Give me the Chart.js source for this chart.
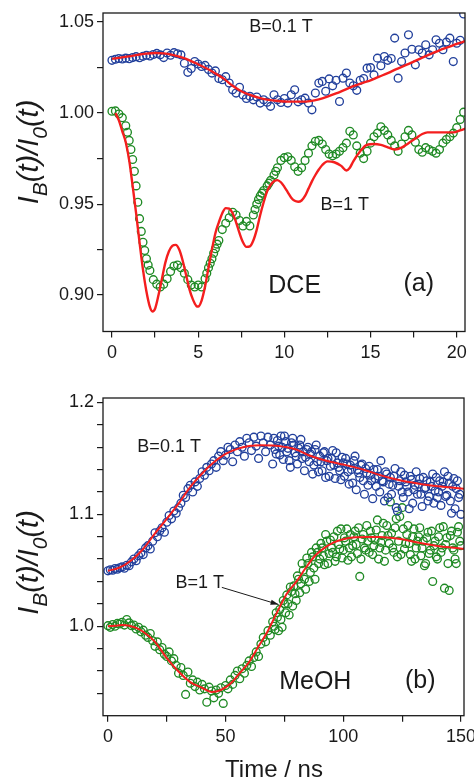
<!DOCTYPE html>
<html><head><meta charset="utf-8">
<script src="https://cdn.jsdelivr.net/npm/chart.js@4/dist/chart.umd.min.js"></script>
<style>
html,body{margin:0;padding:0;background:#fff;width:474px;height:781px;overflow:hidden}
#ca{position:absolute;left:0;top:0;width:474px;height:380px}
#cb{position:absolute;left:0;top:380px;width:474px;height:401px}
</style></head><body>
<canvas id="ca" width="474" height="380"></canvas>
<canvas id="cb" width="474" height="401"></canvas>
<script>
// ---------- Panel (a): DCE ----------
const dceTime = [
 0.0,0.2,0.4,0.6,0.8,1.0,1.2,1.4,1.6,1.8,
 2.0,2.2,2.4,2.6,2.8,3.0,3.2,3.4,3.6,3.8,
 4.0,4.2,4.4,4.6,4.8,5.0,5.2,5.4,5.6,5.8,
 6.0,6.2,6.4,6.6,6.8,7.0,7.2,7.4,7.6,7.8,
 8.0,8.2,8.4,8.6,8.8,9.0,9.2,9.4,9.6,9.8,
 10.0,10.2,10.4,10.6,10.8,11.0,11.2,11.4,11.6,11.8,
 12.0,12.2,12.4,12.6,12.8,13.0,13.2,13.4,13.6,13.8,
 14.0,14.2,14.4,14.6,14.8,15.0,15.2,15.4,15.6,15.8,
 16.0,16.2,16.4,16.6,16.8,17.0,17.2,17.4,17.6,17.8,
 18.0,18.2,18.4,18.6,18.8,19.0,19.2,19.4,19.6,19.8,
 20.0,20.2,20.4];
const dceBlue = [
 1.0290,1.0296,1.0300,1.0297,1.0302,1.0299,1.0305,1.0310,1.0304,1.0312,
 1.0318,1.0314,1.0322,1.0328,1.0320,1.0305,1.0330,1.0318,1.0332,1.0326,
 1.0320,1.0274,1.0224,1.0245,1.0283,1.0270,1.0256,1.0262,1.0240,1.0220,
 1.0232,1.0190,1.0183,1.0200,1.0165,1.0128,1.0110,1.0142,1.0100,1.0080,
 1.0092,1.0073,1.0088,1.0055,1.0073,1.0060,1.0037,1.0101,1.0073,1.0058,
 1.0080,1.0055,1.0101,1.0128,1.0062,1.0073,1.0082,1.0055,1.0018,1.0110,
 1.0165,1.0174,1.0120,1.0188,1.0150,1.0180,1.0064,1.0192,1.0220,1.0165,
 1.0150,1.0125,1.0180,1.0190,1.0247,1.0250,1.0210,1.0302,1.0260,1.0311,
 1.0290,1.0300,1.0412,1.0192,1.0283,1.0330,1.0430,1.0351,1.0265,1.0348,
 1.0330,1.0375,1.0320,1.0348,1.0403,1.0384,1.0348,1.0390,1.0412,1.0283,
 1.0384,1.0400,1.0545];
const dceGreen = [
 1.0010,1.0012,0.9995,0.9975,0.9930,0.9850,0.9745,0.9600,0.9420,0.9290,
 0.9200,0.9135,0.9085,0.9060,0.9045,0.9060,0.9090,0.9130,0.9160,0.9165,
 0.9150,0.9120,0.9085,0.9055,0.9045,0.9055,0.9045,0.9090,0.9150,0.9200,
 0.9255,0.9300,0.9360,0.9395,0.9425,0.9455,0.9440,0.9410,0.9380,0.9405,
 0.9380,0.9440,0.9500,0.9545,0.9575,0.9600,0.9630,0.9660,0.9700,0.9740,
 0.9755,0.9760,0.9740,0.9705,0.9680,0.9700,0.9740,0.9780,0.9820,0.9845,
 0.9850,0.9830,0.9800,0.9775,0.9765,0.9775,0.9790,0.9810,0.9835,0.9900,
 0.9880,0.9820,0.9780,0.9750,0.9790,0.9835,0.9870,0.9890,0.9925,0.9905,
 0.9880,0.9850,0.9820,0.9790,0.9830,0.9870,0.9905,0.9880,0.9840,0.9800,
 0.9785,0.9810,0.9800,0.9790,0.9780,0.9800,0.9835,0.9855,0.9870,0.9890,
 0.9920,0.9965,1.0005];
const dceGreenExtraTime = [0.9,1.1,1.3,1.5,1.7,1.9,2.1,5.5,5.7,5.9,6.1,8.3,8.5,8.7,9.1,9.5];
const dceGreenExtra = [0.9895,0.9800,0.9680,0.9510,0.9350,0.9245,0.9165,0.9120,0.9175,0.9230,0.9280,0.9470,0.9525,0.9560,0.9615,0.9680];
const dceBlueFitTime = [0,0.5,1,1.5,2,2.5,3,3.5,4,4.5,5,5.5,6,6.5,7,7.5,8,8.5,9,9.5,10,10.5,11,11.5,12,12.5,13,13.5,14,14.5,15,15.5,16,16.5,17,17.5,18,18.5,19,19.5,20,20.5];
const dceBlueFit = [1.0298,1.0305,1.0312,1.0320,1.0327,1.0330,1.0328,1.0320,1.0307,1.0290,1.0268,1.0245,1.0218,1.0188,1.0150,1.0120,1.0100,1.0085,1.0074,1.0068,1.0064,1.0063,1.0063,1.0066,1.0075,1.0090,1.0108,1.0128,1.0148,1.0165,1.0180,1.0200,1.0220,1.0242,1.0262,1.0283,1.0305,1.0325,1.0345,1.0362,1.0380,1.0395];
const dceGreenFitTime = [0.2,0.4,0.6,0.8,1.0,1.2,1.4,1.6,1.8,2.0,2.2,2.35,2.5,2.7,2.9,3.1,3.3,3.5,3.7,3.9,4.1,4.3,4.5,4.7,4.9,5.0,
 5.2,5.4,5.6,5.8,6.0,6.2,6.4,6.6,6.8,7.0,7.2,7.4,7.6,7.8,8.0,8.2,8.4,8.6,8.8,9.0,9.2,9.4,9.6,9.8,10.0,10.2,10.4,10.6,10.8,11.0,11.2,11.4,11.6,11.8,12.0,12.2,
 12.5,12.9,13.3,13.6,13.8,14.0,14.4,14.8,15.2,15.6,16.0,16.4,16.8,17.2,17.6,18.0,18.3,19.0,19.8,20.2,20.6];
const dceGreenFit = [1.0000,0.9960,0.9900,0.9840,0.9740,0.9600,0.9450,0.9290,0.9140,0.9020,0.8935,0.8910,0.8925,0.9000,0.9090,0.9180,0.9240,0.9270,0.9276,0.9250,0.9190,0.9110,0.9030,0.8975,0.8940,0.8937,
 0.8970,0.9047,0.9150,0.9250,0.9340,0.9400,0.9450,0.9478,0.9475,0.9450,0.9400,0.9340,0.9290,0.9265,0.9268,0.9300,0.9360,0.9440,0.9510,0.9570,0.9605,0.9625,0.9632,0.9620,0.9595,0.9565,0.9535,0.9518,0.9513,0.9520,0.9545,0.9585,0.9625,0.9660,0.9690,0.9715,
 0.9735,0.9730,0.9710,0.9685,0.9700,0.9735,0.9790,0.9826,0.9830,0.9825,0.9812,0.9800,0.9810,0.9835,0.9860,0.9885,0.9894,0.9894,0.9894,0.9905,0.9918];
const dceXTicks = [0,2.5,5,7.5,10,12.5,15,17.5,20];
const dceXLabels = ['0','','5','','10','','15','','20'];
const dceYTicks = [0.9,0.925,0.95,0.975,1.0,1.025,1.05];
const dceYLabels = ['0.90','','0.95','','1.00','','1.05'];

// ---------- Panel (b): MeOH ----------
const meohTime = [
 0,1,2,3,4,5,6,7,8,9,10,11,12,13,14,15,16,17,18,19,
 20,21,22,23,24,25,26,27,28,29,30,31,32,33,34,35,36,37,38,39,
 40,41,42,43,44,45,46,47,48,49,50,51,52,53,54,55,56,57,58,59,
 60,61,62,63,64,65,66,67,68,69,70,71,72,73,74,75,76,77,78,79,
 80,81,82,83,84,85,86,87,88,89,90,91,92,93,94,95,96,97,98,99,
 100,101,102,103,104,105,106,107,108,109,110,111,112,113,114,115,116,117,118,119,
 120,121,122,123,124,125,126,127,128,129,130,131,132,133,134,135,136,137,138,139,
 140,141,142,143,144,145,146,147,148,149,150];
const meohBlue = [
 1.0495,1.0505,1.0500,1.0515,1.0510,1.0522,1.0530,1.0518,1.0545,1.0540,
 1.0575,1.0600,1.0585,1.0630,1.0655,1.0640,1.0700,1.0720,1.0690,1.0760,
 1.0835,1.0800,1.0850,1.0880,1.0840,1.0930,1.0990,1.0960,1.1030,1.1010,
 1.1060,1.1100,1.1170,1.1150,1.1230,1.1260,1.1200,1.1290,1.1250,1.1320,
 1.1380,1.1350,1.1420,1.1390,1.1450,1.1480,1.1420,1.1520,1.1560,1.1480,
 1.1530,1.1600,1.1580,1.1470,1.1620,1.1560,1.1650,1.1600,1.1520,1.1680,
 1.1640,1.1570,1.1690,1.1610,1.1500,1.1700,1.1640,1.1560,1.1690,1.1620,
 1.1450,1.1580,1.1660,1.1530,1.1600,1.1700,1.1560,1.1480,1.1640,1.1620,
 1.1520,1.1590,1.1670,1.1560,1.1510,1.1600,1.1540,1.1360,1.1580,1.1470,
 1.1520,1.1390,1.1560,1.1480,1.1340,1.1500,1.1440,1.1550,1.1420,1.1310,
 1.1460,1.1500,1.1380,1.1440,1.1280,1.1520,1.1400,1.1330,1.1450,1.1180,
 1.1370,1.1430,1.1300,1.1400,1.1250,1.1340,1.1480,1.1290,1.1380,1.1150,
 1.1330,1.1260,1.1410,1.1030,1.1300,1.1200,1.1350,1.1250,1.1050,1.1310,
 1.1220,1.1380,1.1270,1.1180,1.1330,1.1240,1.1120,1.1290,1.1360,1.1210,
 1.1150,1.1300,1.1250,1.1380,1.1170,1.1280,1.1010,1.1320,1.1230,1.1150,
 1.1000];
const meohGreen = [
 1.0005,0.9990,1.0015,1.0000,1.0025,1.0020,1.0035,1.0010,1.0060,1.0030,
 1.0005,1.0010,0.9975,0.9990,0.9950,0.9965,0.9920,0.9900,0.9935,0.9870,
 0.9820,0.9860,0.9790,0.9810,0.9750,0.9730,0.9770,0.9690,0.9710,0.9650,
 0.9580,0.9630,0.9560,0.9390,0.9590,0.9490,0.9520,0.9460,0.9500,0.9430,
 0.9480,0.9440,0.9320,0.9455,0.9420,0.9360,0.9430,0.9400,0.9450,0.9310,
 0.9470,0.9440,0.9520,0.9480,0.9560,0.9600,0.9530,0.9620,0.9580,0.9650,
 0.9690,0.9640,0.9720,0.9770,0.9730,0.9840,0.9900,0.9860,0.9960,0.9920,
 1.0040,0.9970,1.0080,1.0150,0.9990,1.0200,1.0280,1.0100,1.0310,1.0360,
 1.0230,1.0420,1.0380,1.0500,1.0330,1.0560,1.0480,1.0620,1.0420,1.0660,
 1.0600,1.0700,1.0550,1.0760,1.0650,1.0700,1.0800,1.0620,1.0730,1.0870,
 1.0680,1.0760,1.0590,1.0820,1.0720,1.0850,1.0650,1.0445,1.0780,1.0700,
 1.0900,1.0660,1.0790,1.0720,1.0860,1.0600,1.0750,1.0920,1.0680,1.0810,
 1.1110,1.0700,1.0880,1.0620,1.0980,1.1060,1.0690,1.0820,1.0740,1.0580,
 1.0870,1.0700,1.0800,1.0630,1.0760,1.0560,1.0840,1.0680,1.0400,1.0760,
 1.0600,1.0880,1.0700,1.0340,1.0790,1.0320,1.0850,1.0680,1.0560,1.0890,
 1.0720];
// second run of readings in the noisy late part (half-ns offsets)
const meohLateTime = [
 70.5,71.5,72.5,73.5,74.5,75.5,76.5,77.5,78.5,79.5,
 80.5,81.5,82.5,83.5,84.5,85.5,86.5,87.5,88.5,89.5,
 90.5,91.5,92.5,93.5,94.5,95.5,96.5,97.5,98.5,99.5,
 100.5,101.5,102.5,103.5,104.5,105.5,106.5,107.5,108.5,109.5,
 110.5,111.5,112.5,113.5,114.5,115.5,116.5,117.5,118.5,119.5,
 120.5,121.5,122.5,123.5,124.5,125.5,126.5,127.5,128.5,129.5,
 130.5,131.5,132.5,133.5,134.5,135.5,136.5,137.5,138.5,139.5,
 140.5,141.5,142.5,143.5,144.5,145.5,146.5,147.5,148.5,149.5];
const meohBlueLate = [
 1.1680,1.1540,1.1610,1.1700,1.1490,1.1650,1.1590,1.1420,1.1680,1.1550,
 1.1450,1.1620,1.1500,1.1390,1.1580,1.1470,1.1560,1.1440,1.1620,1.1380,
 1.1470,1.1550,1.1330,1.1500,1.1430,1.1570,1.1320,1.1460,1.1390,1.1510,
 1.1340,1.1450,1.1270,1.1400,1.1480,1.1220,1.1370,1.1440,1.1300,1.1410,
 1.1260,1.1350,1.1140,1.1320,1.1400,1.1200,1.1300,1.1120,1.1360,1.1270,
 1.1180,1.1340,1.1060,1.1250,1.1380,1.1150,1.1290,1.1200,1.1340,1.1100,
 1.1260,1.1180,1.1320,1.1070,1.1230,1.1300,1.1160,1.1250,1.1100,1.1330,
 1.1200,1.1080,1.1290,1.1160,1.1340,1.1120,1.1250,1.1050,1.1300,1.1180];
const meohGreenLate = [
 1.0000,1.0120,0.9960,1.0060,1.0230,1.0120,1.0200,1.0350,1.0180,1.0290,
 1.0450,1.0300,1.0560,1.0420,1.0610,1.0400,1.0660,1.0520,1.0700,1.0560,
 1.0740,1.0630,1.0820,1.0560,1.0770,1.0660,1.0580,1.0850,1.0690,1.0610,
 1.0790,1.0870,1.0700,1.0620,1.0800,1.0730,1.0880,1.0600,1.0820,1.0680,
 1.0760,1.0850,1.0640,1.0770,1.0950,1.0700,1.0810,1.0580,1.0900,1.0740,
 1.0830,1.0660,1.0960,1.0760,1.0640,1.0870,1.0740,1.0900,1.0640,1.0800,
 1.0600,1.0760,1.0880,1.0700,1.0540,1.0790,1.0650,1.0850,1.0720,1.0620,
 1.0800,1.0660,1.0890,1.0730,1.0560,1.0810,1.0700,1.0600,1.0840,1.0760];
const meohBlueFitTime = [0,5,10,15,20,25,30,35,40,45,50,55,60,65,70,75,80,85,90,95,100,105,110,115,120,125,130,135,140,145,150,152];
const meohBlueFit = [1.0495,1.0525,1.0590,1.0690,1.0830,1.0960,1.1095,1.1245,1.1365,1.1465,1.1540,1.1585,1.1610,1.1618,1.1615,1.1603,1.1580,1.1530,1.1495,1.1468,1.1445,1.1420,1.1390,1.1355,1.1325,1.1300,1.1282,1.1265,1.1252,1.1242,1.1232,1.1228];
const meohGreenFitTime = [0,3,6,9,12,15,20,25,30,35,40,44,48,52,56,60,64,68,72,76,80,84,88,92,96,100,105,110,115,120,125,130,135,140,145,152];
const meohGreenFit = [1.0000,1.0005,1.0010,1.0005,0.9985,0.9950,0.9860,0.9715,0.9595,0.9500,0.9450,0.9412,0.9430,0.9485,0.9580,0.9680,0.9820,0.9960,1.0130,1.0290,1.0396,1.0520,1.0630,1.0700,1.0750,1.0778,1.0795,1.0798,1.0797,1.0790,1.0777,1.0755,1.0735,1.0718,1.0705,1.0690];
const meohXTicks = [0,25,50,75,100,125,150];
const meohXLabels = ['0','','50','','100','','150'];
const meohYTicks = [0.94,0.96,0.98,1.0,1.02,1.04,1.06,1.08,1.1,1.12,1.14,1.16,1.18,1.2];
const meohYLabels = ['','','','1.0','','','','','1.1','','','','','1.2'];

// ---------- styling ----------
const FONT = "'Liberation Sans', Arial, Helvetica, sans-serif";
const INK = '#1a1a1a';
const BLUE = '#22409c';
const GREEN = '#1f8a24';
const RED = '#f41e1e';
Chart.defaults.font.family = FONT;

function pts(xs, ys) { return xs.map((t, i) => ({ x: t, y: ys[i] })); }

function axis(min, max, ticks, labels, isX, dim) {
  return {
    type: 'linear', min: min, max: max,
    afterBuildTicks: ax => { ax.ticks = ticks.map(v => ({ value: v })); },
    afterFit: ax => {
      if (isX) { ax.height = dim; ax.paddingLeft = 0; ax.paddingRight = 0; }
      else { ax.width = dim; ax.paddingTop = 0; ax.paddingBottom = 0; }
    },
    border: { display: false },
    grid: { drawOnChartArea: false, drawTicks: true, tickLength: 6, color: INK, lineWidth: 1.2 },
    ticks: { callback: (v, i) => labels[i], color: INK, font: { family: FONT, size: 18 },
             padding: isX ? 5 : 3, autoSkip: false, maxRotation: 0, minRotation: 0 }
  };
}

function drawYTitle(ctx, cx, cy) {
  const parts = [['I', 29, 0], ['B', 21, 9], ['(t)/', 29, 0], ['I', 29, 0], ['0', 21, 9], ['(t)', 29, 0]];
  ctx.save();
  ctx.translate(cx, cy);
  ctx.rotate(-Math.PI / 2);
  ctx.fillStyle = INK;
  ctx.textAlign = 'left';
  ctx.textBaseline = 'alphabetic';
  let w = 0;
  parts.forEach(p => { ctx.font = 'italic ' + p[1] + 'px ' + FONT; w += ctx.measureText(p[0]).width; });
  let x = -w / 2;
  parts.forEach(p => {
    ctx.font = 'italic ' + p[1] + 'px ' + FONT;
    ctx.fillText(p[0], x, p[2]);
    x += ctx.measureText(p[0]).width;
  });
  ctx.restore();
}

const decor = {
  id: 'decor',
  afterDatasetsDraw(chart, args, o) {
    const ctx = chart.ctx, a = chart.chartArea, sx = chart.scales.x, sy = chart.scales.y;
    ctx.save();
    ctx.strokeStyle = INK; ctx.lineWidth = 1.3;
    ctx.strokeRect(a.left, a.top, a.right - a.left, a.bottom - a.top);
    ctx.fillStyle = INK; ctx.textAlign = 'center'; ctx.textBaseline = 'alphabetic';
    (o.notes || []).forEach(n => {
      ctx.font = n.size + 'px ' + FONT;
      ctx.fillText(n.text, sx.getPixelForValue(n.x), sy.getPixelForValue(n.y));
    });
    if (o.arrow) {
      const r = o.arrow;
      const x0 = sx.getPixelForValue(r.x0), y0 = sy.getPixelForValue(r.y0);
      const x1 = sx.getPixelForValue(r.x1), y1 = sy.getPixelForValue(r.y1);
      ctx.strokeStyle = INK; ctx.lineWidth = 1;
      ctx.beginPath(); ctx.moveTo(x0, y0); ctx.lineTo(x1, y1); ctx.stroke();
      const ang = Math.atan2(y1 - y0, x1 - x0), c = Math.cos(ang), s = Math.sin(ang), L = 8, W = 2.6;
      ctx.beginPath();
      ctx.moveTo(x1, y1);
      ctx.lineTo(x1 - L * c + W * s, y1 - L * s - W * c);
      ctx.lineTo(x1 - L * c - W * s, y1 - L * s + W * c);
      ctx.closePath(); ctx.fill();
    }
    drawYTitle(ctx, o.yTitle.x, o.yTitle.y);
    if (o.xTitle) {
      ctx.font = o.xTitle.size + 'px ' + FONT;
      ctx.textAlign = 'center';
      ctx.fillText(o.xTitle.text, o.xTitle.x, o.xTitle.y);
    }
    ctx.restore();
  }
};

function scatterSet(xs, ys, color) {
  return { data: pts(xs, ys), showLine: false, borderColor: color, backgroundColor: 'rgba(0,0,0,0)',
           pointRadius: 3.9, pointBorderWidth: 1.35, pointHoverRadius: 3.9, order: 2 };
}
function fitSet(xs, ys, w) {
  return { data: pts(xs, ys), showLine: true, borderColor: RED, borderWidth: w, pointRadius: 0,
           cubicInterpolationMode: 'monotone', fill: false, order: 0 };
}

new Chart(document.getElementById('ca'), {
  type: 'scatter',
  data: { datasets: [
    fitSet(dceBlueFitTime, dceBlueFit, 2.4),
    fitSet(dceGreenFitTime, dceGreenFit, 2.4),
    scatterSet(dceTime, dceBlue, BLUE),
    scatterSet(dceTime, dceGreen, GREEN),
    scatterSet(dceGreenExtraTime, dceGreenExtra, GREEN)
  ] },
  options: {
    responsive: false, animation: false, events: [],
    layout: { padding: { top: 13, right: 9, bottom: 8.5, left: 0 } },
    scales: {
      x: axis(-0.52, 20.48, dceXTicks, dceXLabels, true, 40),
      y: axis(0.880, 1.055, dceYTicks, dceYLabels, false, 103)
    },
    plugins: {
      legend: { display: false }, tooltip: { enabled: false },
      decor: {
        notes: [
          { text: 'B=0.1 T', x: 9.8, y: 1.0447, size: 18 },
          { text: 'B=1 T', x: 13.5, y: 0.9469, size: 18 },
          { text: 'DCE', x: 10.6, y: 0.9013, size: 25 },
          { text: '(a)', x: 17.8, y: 0.9020, size: 25 }
        ],
        yTitle: { x: 38, y: 152 }
      }
    }
  },
  plugins: [decor]
});

new Chart(document.getElementById('cb'), {
  type: 'scatter',
  data: { datasets: [
    fitSet(meohBlueFitTime, meohBlueFit, 2),
    fitSet(meohGreenFitTime, meohGreenFit, 2),
    scatterSet(meohTime, meohBlue, BLUE),
    scatterSet(meohLateTime, meohBlueLate, BLUE),
    scatterSet(meohTime, meohGreen, GREEN),
    scatterSet(meohLateTime, meohGreenLate, GREEN)
  ] },
  options: {
    responsive: false, animation: false, events: [],
    layout: { padding: { top: 18, right: 10, bottom: 25.3, left: 0 } },
    scales: {
      x: axis(-2.1, 151.3, meohXTicks, meohXLabels, true, 40),
      y: axis(0.92, 1.204, meohYTicks, meohYLabels, false, 103)
    },
    plugins: {
      legend: { display: false }, tooltip: { enabled: false },
      decor: {
        notes: [
          { text: 'B=0.1 T', x: 26.0, y: 1.1554, size: 18 },
          { text: 'B=1 T', x: 39.0, y: 1.0339, size: 18 },
          { text: 'MeOH', x: 88.1, y: 0.9437, size: 25 },
          { text: '(b)', x: 132.7, y: 0.9445, size: 25 }
        ],
        arrow: { x0: 48.4, y0: 1.0347, x1: 72.5, y1: 1.0194 },
        yTitle: { x: 38, y: 182.5 },
        xTitle: { text: 'Time / ns', x: 274, y: 396.7, size: 24 }
      }
    }
  },
  plugins: [decor]
});
</script>
</body></html>
